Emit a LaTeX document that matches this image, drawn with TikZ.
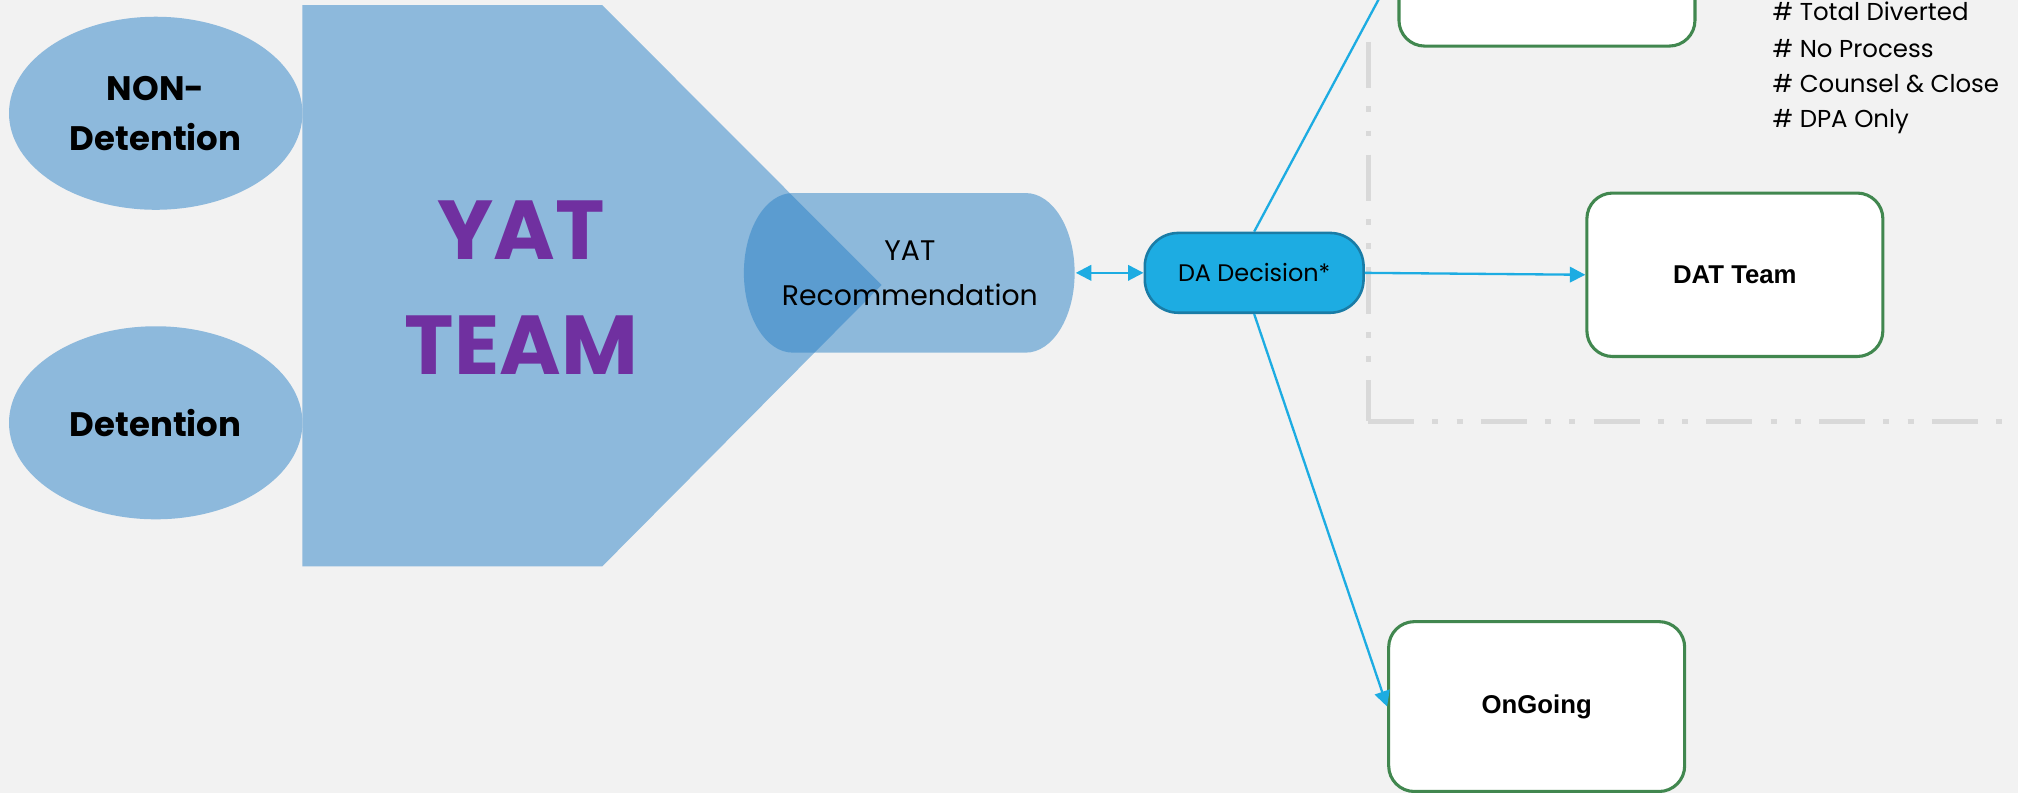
\documentclass[tikz,border=0pt]{standalone}
\usepackage{fontspec}
\setmainfont{Poppins}
\newfontfamily\arialfont{Liberation Sans}
\usetikzlibrary{shapes.geometric,arrows.meta}

\definecolor{bgc}{HTML}{F2F2F2}
\definecolor{lblue}{HTML}{8DB9DC}
\definecolor{cylc}{RGB}{42,129,198}
\definecolor{dafill}{HTML}{1DACE2}
\definecolor{daborder}{HTML}{1A7CA6}
\definecolor{arrowc}{HTML}{1DACE2}
\definecolor{boxgreen}{HTML}{41874F}
\definecolor{dashgray}{HTML}{D9D9D9}
\definecolor{yatpurple}{HTML}{7030A0}

\begin{document}
\begin{tikzpicture}[x=0.5pt,y=-0.5pt,
  src/.style={ellipse, fill=lblue, minimum width=114pt, minimum height=75pt, inner sep=0pt, align=center, font=\bfseries\fontsize{13.2}{19.5}\selectfont},
  outbox/.style={rectangle, rounded corners=10pt, draw=boxgreen, line width=1.2pt, fill=white, minimum width=115pt, minimum height=63.5pt, inner sep=0pt, font=\arialfont\bfseries\fontsize{10}{12}\selectfont},
  conn/.style={draw=arrowc, line width=0.9pt},
  tip/.style={-{Triangle[length=6pt,width=6pt]}},
  sepline/.style={draw=dashgray, line width=2pt, dash pattern=on 17.9pt off 7.1pt on 2.3pt off 7.1pt on 2.3pt off 7.1pt},
  listtext/.style={anchor=base west, inner sep=0pt, font=\fontsize{9.5}{12}\selectfont}
]
\fill[bgc] (0,0) rectangle (1568,616);
\useasboundingbox (0,0) rectangle (1568,616);
\clip (0,0) rectangle (1568,616);

% separator
\coordinate (septop) at (1063,32.6);
\coordinate (sepcorner) at (1063,327.5);
\coordinate (sepend) at (1580,327.5);
\draw[sepline] (septop) -- (sepcorner);
\draw[sepline] (sepcorner) -- (sepend);

% YAT team pentagon
\fill[lblue] (235,4) -- (468,4) -- (685,221.5) -- (468,440) -- (235,440) -- cycle;
\node[text=yatpurple, font=\bfseries\fontsize{32.5}{45}\selectfont, align=center, inner sep=0pt] (yat) at (405,223.5) {YAT\\TEAM};

% sources
\node[src] (nondet) at (121,88) {NON-\\Detention};
\node[src] (det) at (121,328.5) {Detention};

% recommendation cylinder
\fill[cylc, fill opacity=0.5] (616,150) -- (797,150)
  arc[start angle=90, end angle=-90, x radius=19pt, y radius=31pt]
  -- (616,274)
  arc[start angle=270, end angle=90, x radius=19pt, y radius=31pt] -- cycle;
\node[minimum width=128.5pt, minimum height=62pt, inner sep=0pt, align=center, font=\fontsize{11}{17.5}\selectfont] (rec) at (707,212) {YAT\\Recommendation};

% DA decision
\node[rectangle, rounded corners=13pt, fill=dafill, draw=daborder, line width=1pt, minimum width=85pt, minimum height=31pt, inner sep=0pt, font=\fontsize{9.3}{11}\selectfont] (da) at (974.5,212) {DA Decision*};

% outcome boxes
\node[outbox] (topbox) at (1202,-27.7) {};
\node[outbox] (dat) at (1348,213.5) {DAT Team};
\node[outbox, minimum height=66pt] (ongoing) at (1194,549) {OnGoing};

% connectors
\draw[conn, {Triangle[length=6pt,width=6pt]}-{Triangle[length=6pt,width=6pt]}] (rec.east) -- (da.west);
\draw[conn, tip] (da.north) -- (topbox.west);
\draw[conn, tip] (da.east) -- (dat.west);
\draw[conn, tip] (da.south) -- (ongoing.west);

% list
\node[listtext] (l1) at (1377,16) {\# Total Diverted};
\node[listtext] (l2) at (1377,44.6) {\# No Process};
\node[listtext] (l3) at (1377,71.5) {\# Counsel \& Close};
\node[listtext] (l4) at (1377,99) {\# DPA Only};
\end{tikzpicture}
\end{document}
